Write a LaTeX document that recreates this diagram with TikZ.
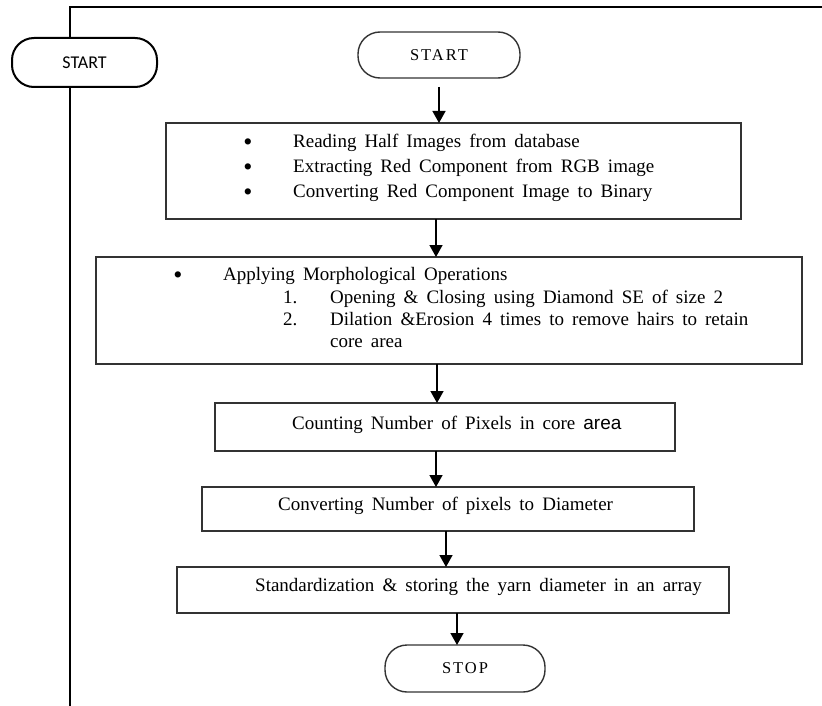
\documentclass[tikz,border=0pt]{standalone}
\usepackage{fontspec}
\setmainfont{Liberation Serif}[WordSpace={1.7}]
\setsansfont{Liberation Sans}
\newfontfamily\calib{Carlito}
\newfontfamily\spaced{Liberation Serif}[LetterSpace=12]
\usetikzlibrary{arrows.meta}
\definecolor{boxgray}{gray}{0.2}
\begin{document}
\begin{tikzpicture}[x=1pt,y=-1pt,
  box/.style={draw=boxgray, line width=1.5pt, fill=white, inner sep=0pt, outer sep=0pt, anchor=north west},
  term/.style={draw=boxgray, line width=1.4pt, fill=white, inner sep=0pt, outer sep=0pt, rounded corners=22pt, font=\spaced\fontsize{16.5}{18}\selectfont},
  lterm/.style={draw=black, line width=2pt, fill=white, inner sep=0pt, outer sep=0pt, rounded corners=22pt, font=\calib\fontsize{18}{20}\selectfont},
  txt/.style={anchor=mid west, inner sep=0pt, font=\fontsize{19}{23}\selectfont},
  dot/.style={anchor=center, inner sep=0pt, font=\fontsize{26}{26}\selectfont},
  arr/.style={line width=1.5pt, -{Triangle[width=13pt,length=12pt]}},
  frame/.style={line width=2.6pt, black}]
\useasboundingbox[fill=white] (0,0) rectangle (822,706);
% frame
\coordinate (ftop) at (70,7);
\coordinate (fbot) at (70,706);
\coordinate (fright) at (822,7);
\draw[frame] (fbot) -- (ftop) -- (fright);
\node[lterm, minimum width=145pt, minimum height=49pt] (lstart) at (84.5,62.5) {START};
% terminals
\node[term, minimum width=162pt, minimum height=46pt] (start) at (439,55) {START};
\node[term, minimum width=160pt, minimum height=47pt] (stop) at (465,668.5) {STOP};
% boxes
\node[box, minimum width=575pt, minimum height=96pt] (b1) at (166,123) {};
\node[box, minimum width=706pt, minimum height=107pt] (b2) at (96,257) {};
\node[box, minimum width=460pt, minimum height=48pt] (b3) at (215,403) {};
\node[box, minimum width=492pt, minimum height=44pt] (b4) at (202,487) {};
\node[box, minimum width=552pt, minimum height=46pt] (b5) at (177,567) {};
% box 1 text
\node[dot] (b1d1) at (248,145) {\textbullet};
\node[txt] (b1t1) at (293,145) {Reading Half Images from database};
\node[dot] (b1d2) at (248,170) {\textbullet};
\node[txt] (b1t2) at (293,170) {Extracting Red Component from RGB image};
\node[dot] (b1d3) at (248,195) {\textbullet};
\node[txt] (b1t3) at (293,195) {Converting Red Component Image to Binary};
% box 2 text
\node[dot] (b2d1) at (178,278) {\textbullet};
\node[txt] (b2t1) at (223,278) {Applying Morphological Operations};
\node[txt] (b2n1) at (283,301) {1.};
\node[txt] (b2t2) at (330,301) {Opening \& Closing using Diamond SE of size 2};
\node[txt] (b2n2) at (283,323) {2.};
\node[txt] (b2t3) at (330,323) {Dilation \&Erosion 4 times to remove hairs to retain};
\node[txt] (b2t4) at (330,345) {core area};
% single line boxes
\node[txt] (b3t) at (292,427) {Counting Number of Pixels in core {\sffamily area}};
\node[txt] (b4t) at (278,508) {Converting Number of pixels to Diameter};
\node[txt] (b5t) at (255,589) {Standardization \& storing the yarn diameter in an array};
% arrows
\draw[arr] ([yshift=-9pt]start.south) -- (b1.north -| start.south);
\draw[arr] (b1.south -| 436,0) -- (b2.north -| 436,0);
\draw[arr] (b2.south -| 437,0) -- (b3.north -| 437,0);
\draw[arr] (b3.south -| 436,0) -- (b4.north -| 436,0);
\draw[arr] (b4.south -| 446,0) -- (b5.north -| 446,0);
\draw[arr] (b5.south -| 457,0) -- (stop.north -| 457,0);
\end{tikzpicture}
\end{document}
